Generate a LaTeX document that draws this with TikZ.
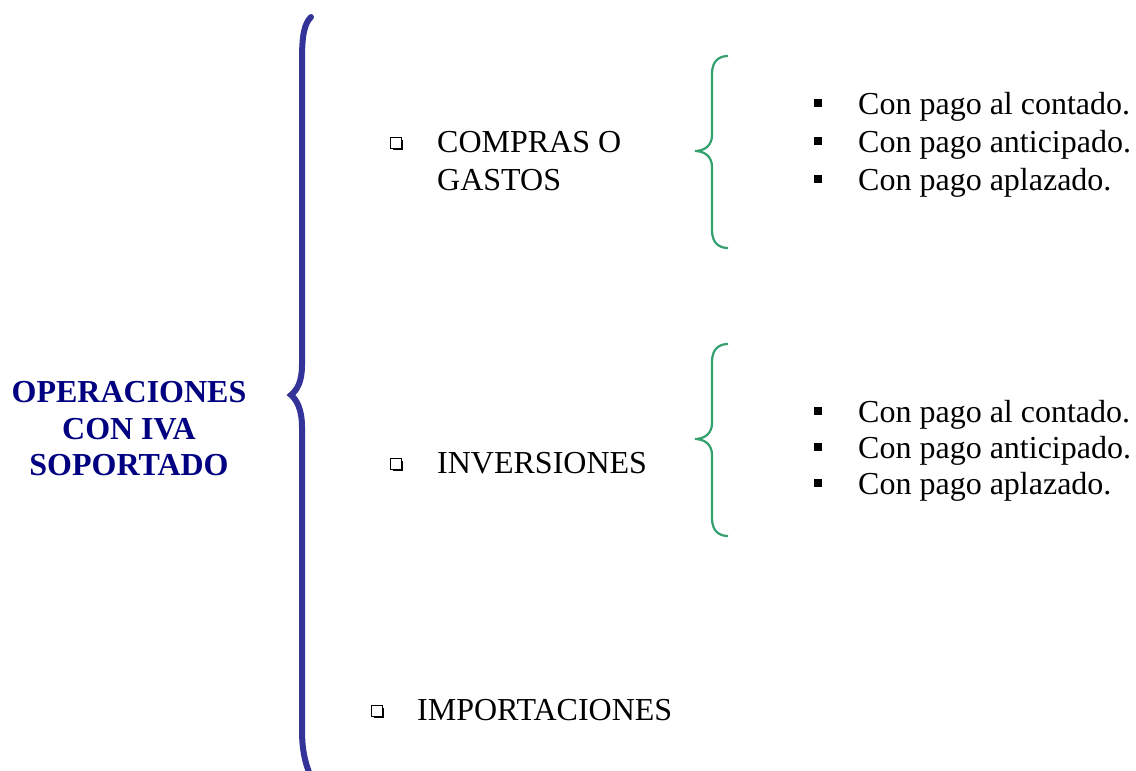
\documentclass[tikz,border=0pt]{standalone}
\usepackage{fontspec}
\setmainfont{Liberation Serif}
\usetikzlibrary{shadows}

\definecolor{titleblue}{RGB}{0,0,128}
\definecolor{bigbrace}{RGB}{51,51,153}
\definecolor{smallbrace}{RGB}{52,160,110}

\begin{document}
\begin{tikzpicture}[x=1pt, y=-1pt,
    txt/.style={anchor=base west, inner sep=0pt, align=left, font=\fontsize{32}{38}\selectfont},
    hollowbox/.style={draw, fill=white, line width=1pt, minimum size=10.5pt, inner sep=0pt,
        drop shadow={shadow xshift=1.8pt, shadow yshift=-1.8pt, opacity=1, fill=black}},
    fullbox/.style={fill=black, minimum size=8.5pt, inner sep=0pt}]
    \useasboundingbox (0,0) rectangle (1136,771);

    \node[inner sep=0pt, align=center, text=titleblue, font=\fontsize{32}{36.5}\selectfont\bfseries]
        (title) at (129,429) {OPERACIONES\\CON IVA\\SOPORTADO};

    \draw[bigbrace, line width=6pt, line cap=round]
        (311,17) .. controls (304,24) and (302,36) .. (302,60) -- (302,365)
        .. controls (302,382) and (297,390) .. (291,395)
        .. controls (297,400) and (302,410) .. (302,427) -- (302,730)
        .. controls (302,750) and (305,762) .. (310,775);

    \node[hollowbox] (sqcompras) at (396,143) {};
    \node[txt] (compras) at (437,190) {COMPRAS O\\GASTOS};

    \node[hollowbox] (sqinversiones) at (396,464) {};
    \node[txt] (inversiones) at (437,473) {INVERSIONES};

    \node[hollowbox] (sqimportaciones) at (377,711) {};
    \node[txt] (importaciones) at (417,720) {IMPORTACIONES};

    \draw[smallbrace, line width=2.2pt]
        (728,56) .. controls (718,56) and (712,62) .. (712,74) -- (712,135)
        .. controls (712,146) and (704,151) .. (695,151)
        .. controls (704,151) and (712,156) .. (712,167) -- (712,230)
        .. controls (712,242) and (718,248) .. (728,248);
    \draw[smallbrace, line width=2.2pt]
        (728,344) .. controls (718,344) and (712,350) .. (712,362) -- (712,423)
        .. controls (712,434) and (704,439) .. (695,439)
        .. controls (704,439) and (712,444) .. (712,455) -- (712,518)
        .. controls (712,530) and (718,536) .. (728,536);

    \node[fullbox] (b1) at (818,103) {};
    \node[txt] (contado1) at (858,114) {Con pago al contado.};
    \node[fullbox] (b2) at (818,141) {};
    \node[txt] (anticipado1) at (858,152) {Con pago anticipado.};
    \node[fullbox] (b3) at (818,179) {};
    \node[txt] (aplazado1) at (858,190) {Con pago aplazado.};

    \node[fullbox] (b4) at (818,411) {};
    \node[txt] (contado2) at (858,422) {Con pago al contado.};
    \node[fullbox] (b5) at (818,447) {};
    \node[txt] (anticipado2) at (858,458) {Con pago anticipado.};
    \node[fullbox] (b6) at (818,483) {};
    \node[txt] (aplazado2) at (858,494) {Con pago aplazado.};
\end{tikzpicture}
\end{document}
